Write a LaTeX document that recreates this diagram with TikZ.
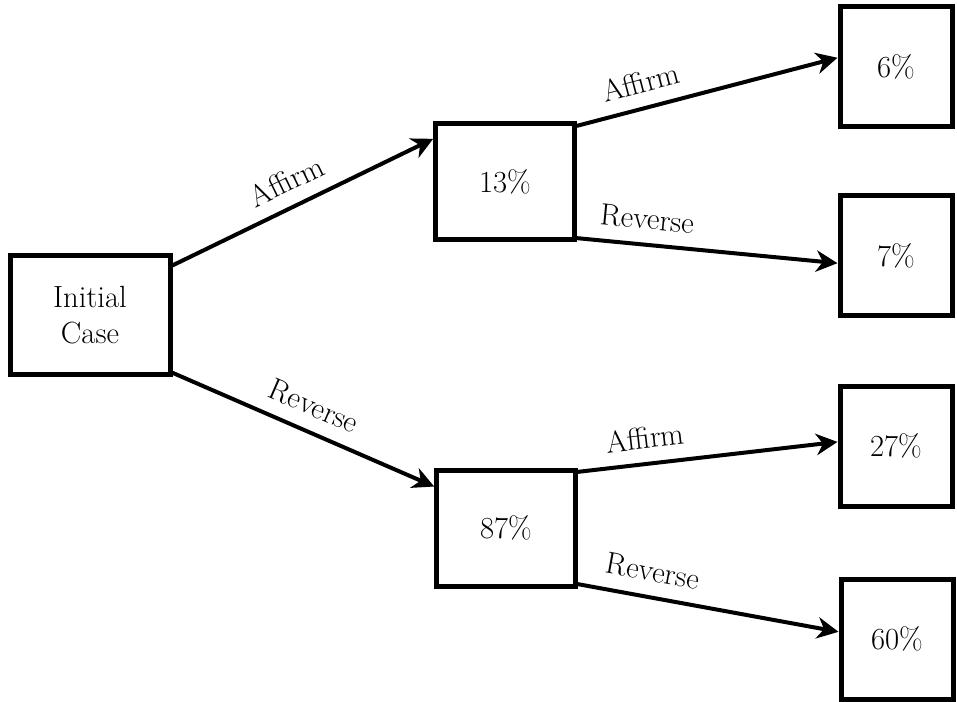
\documentclass[tikz,border=0pt]{standalone}
\usepackage{tikz}
\usetikzlibrary{arrows.meta}

\begin{document}
\begin{tikzpicture}[x=0.75pt,y=0.75pt,
  outcome/.style={draw, line width=3.75pt, inner sep=0pt, align=center,
    font=\fontsize{23}{27}\selectfont},
  startbox/.style={outcome, minimum width=120pt, minimum height=89pt},
  midbox/.style={outcome, minimum width=104pt, minimum height=87pt},
  leafbox/.style={outcome, minimum width=84pt, minimum height=90pt},
  branch/.style={line width=3pt, -{Stealth[length=16pt,width=16pt,inset=5pt]}},
  choice/.style={sloped, above=7pt, inner sep=3pt, font=\fontsize{23}{27}\selectfont}]
%set diagram left start at 0, and has height of 702
\useasboundingbox (0,0) rectangle (957,-702);

%Shape: Rectangle
\node [startbox] (init) at (90,-315) {Initial\\Case};
%Shape: Rectangle
\node [midbox] (aff) at (505,-182) {13\%};
%Shape: Rectangle
\node [midbox] (rev) at (506,-528) {87\%};
%Shape: Rectangle
\node [leafbox] (affaff) at (896,-67) {6\%};
%Shape: Rectangle
\node [leafbox] (affrev) at (896,-256) {7\%};
%Shape: Rectangle
\node [leafbox] (revaff) at (896,-446) {27\%};
%Shape: Rectangle
\node [leafbox] (revrev) at (897,-639) {60\%};

%Straight Lines
\draw [branch] (init.31) -- node [choice, pos=0.48] {Affirm} (aff.149);
%Straight Lines
\draw [branch] (init.325) -- node [choice, pos=0.5] {Reverse} (rev.150);
%Straight Lines
\draw [branch] (aff.38) -- node [choice, pos=0.27] {Affirm} (affaff.171);
%Straight Lines
\draw [branch] (aff.322) -- node [choice, pos=0.26] {Reverse} (affrev.187);
%Straight Lines
\draw [branch] (rev.38) -- node [choice, pos=0.27] {Affirm} (revaff.176);
%Straight Lines
\draw [branch] (rev.322) -- node [choice, pos=0.27] {Reverse} (revrev.173);

\end{tikzpicture}
\end{document}
